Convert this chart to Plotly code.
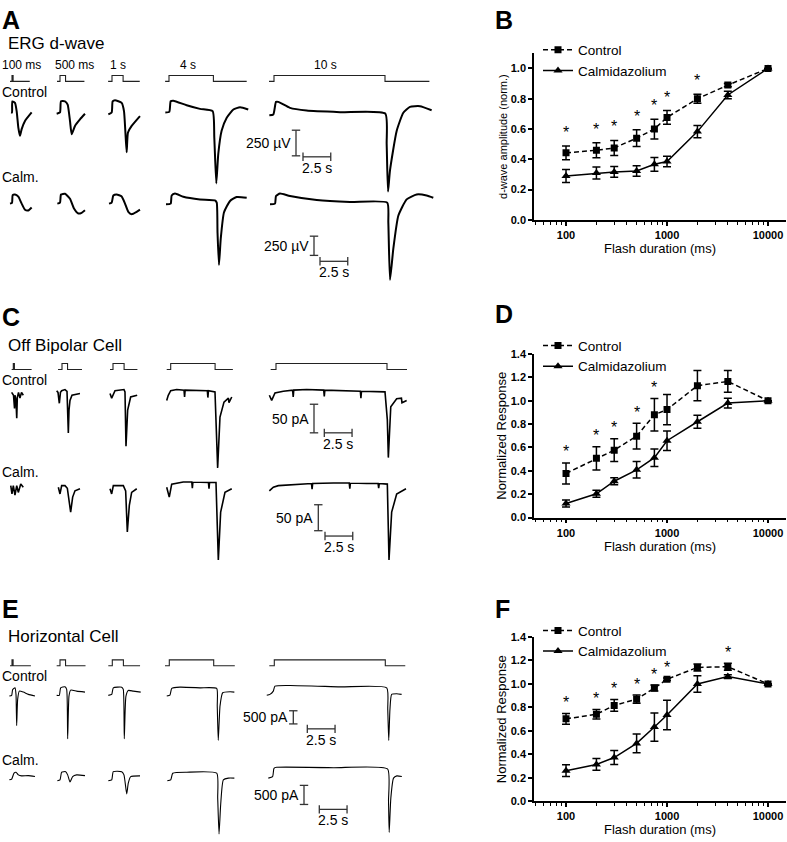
import numpy as np
import plotly.graph_objects as go

W, H = 787, 842
FONT = "Arial, Liberation Sans, sans-serif"

# ---------------- B / D / F : response vs flash duration ----------------
dur_ms = [100, 200, 300, 500, 750, 1000, 2000, 4000, 10000]

b_ctrl = [0.443, 0.46, 0.475, 0.54, 0.60, 0.677, 0.80, 0.89, 1.0]
b_ctrl_err = [0.045, 0.05, 0.05, 0.055, 0.065, 0.045, 0.03, 0.01, 0]
b_calm = [0.29, 0.31, 0.317, 0.323, 0.367, 0.386, 0.583, 0.825, 1.0]
b_calm_err = [0.043, 0.04, 0.035, 0.035, 0.045, 0.035, 0.04, 0.025, 0]
b_sig = [100, 200, 300, 500, 750, 1000, 2000]

d_ctrl = [0.378, 0.507, 0.577, 0.697, 0.88, 0.924, 1.129, 1.165, 1.0]
d_ctrl_err = [0.09, 0.1, 0.098, 0.11, 0.14, 0.13, 0.13, 0.093, 0]
d_calm = [0.12, 0.204, 0.311, 0.409, 0.513, 0.658, 0.82, 0.98, 1.0]
d_calm_err = [0.03, 0.03, 0.03, 0.07, 0.075, 0.083, 0.055, 0.042, 0]
d_sig = [100, 200, 300, 500, 750]

f_ctrl = [0.703, 0.742, 0.817, 0.87, 0.965, 1.04, 1.14, 1.146, 1.0]
f_ctrl_err = [0.045, 0.04, 0.05, 0.035, 0.025, 0.01, 0.03, 0.03, 0]
f_calm = [0.262, 0.315, 0.374, 0.494, 0.633, 0.736, 1.0, 1.062, 1.0]
f_calm_err = [0.05, 0.05, 0.06, 0.08, 0.12, 0.125, 0.07, 0.015, 0]
f_sig = [100, 200, 300, 500, 750, 1000, 4000]

# ---------------- A / C / E : example recordings ----------------
# stimulus durations (s) and where each stimulus line starts/ends (s from onset)
stim_dur = [0.1, 0.5, 1.0, 4.0, 10.0]
stim_labels = ["100 ms", "500 ms", "1 s", "4 s", "10 s"]
erg_stim_pre = [0.18, 0.27, 0.35, 0.35, 0.45]
erg_stim_post = [1.6, 2.2, 2.5, 7.0, 14.0]
obc_stim_pre = [0.15, 0.36, 0.27, 0.36, 0.48]
obc_stim_post = [1.65, 1.8, 2.2, 5.6, 11.8]
hc_stim_pre = [0.18, 0.3, 0.36, 0.39, 0.45]
hc_stim_post = [1.7, 2.3, 2.5, 5.9, 11.8]

# ERG d-wave, µV (time in s from light onset)
erg_ctrl = [
    ([-0.09, 0, 0.03, 0.27, 0.42, 0.57, 0.72, 0.87, 1.17, 1.77],
     [0, 0, 108, 93, 13, -147, -228, -163, -83, 0]),
    ([-0.3, 0, 0.09, 0.45, 0.69, 0.9, 1.05, 1.35, 1.8, 2.25],
     [-13, 0, 109, 109, 77, -83, -212, -131, -67, -13]),
    ([-0.33, -0.03, 0.06, 0.27, 0.87, 1.08, 1.2, 1.32, 1.44, 1.77, 2.52],
     [-19, 0, 109, 119, 93, 13, -179, -388, -195, -131, -35]),
    ([-0.33, 0.03, 0.15, 0.39, 1.59, 2.79, 3.93, 4.08, 4.26, 4.44, 4.74, 5.2, 5.8, 6.4, 7.14],
     [0, 6, 109, 115, 70, 35, 13, -244, -692, -404, -179, -51, 29, 51, 29]),
    ([-0.42, -0.06, 0.18, 0.39, 1.44, 2.94, 5.95, 10.02, 10.15, 10.27, 10.45, 11.05, 11.65, 12.25, 13.15, 14.2],
     [-26, -19, 103, 103, 45, 19, 3, -10, -308, -772, -564, -180, -3, 55, 61, 22]),
]
erg_calm = [
    ([-0.18, 0, 0.06, 0.27, 0.57, 0.87, 1.17, 1.47, 1.77],
     [0, 10, 110, 120, 90, 0, -80, -88, -50]),
    ([-0.24, 0, 0.09, 0.45, 0.9, 1.26, 1.65, 1.95, 2.25],
     [0, 13, 119, 128, 64, -64, -128, -119, -86]),
    ([-0.27, -0.03, 0.12, 0.42, 0.87, 1.17, 1.47, 1.77, 2.22, 2.52],
     [0, 13, 106, 119, 94, 0, -106, -137, -106, -77]),
    ([-0.27, 0.15, 0.24, 0.54, 1.29, 2.79, 4.14, 4.3, 4.37, 4.5, 4.66, 4.95, 5.5, 6.1, 7.0],
     [-9, 0, 106, 132, 90, 55, 42, 13, -372, -799, -458, -115, 35, 86, 77]),
    ([-0.36, 0.09, 0.18, 0.54, 1.44, 3.85, 6.85, 10.2, 10.3, 10.45, 10.75, 11.2, 11.95, 12.85, 13.75, 14.35],
     [-9, 0, 99, 132, 99, 47, 22, 13, -244, -991, -586, -158, 55, 119, 106, 77]),
]

# Off bipolar cell, pA
obc_ctrl = [
    ([-0.15, 0.02, 0.11, 0.15, 0.24, 0.31, 0.36, 0.47, 0.6, 0.74, 0.9],
     [0, -5, -28, -5, -14, -45, -9, 0, -10, 0, -5]),
    ([-0.48, -0.36, -0.24, -0.14, -0.03, 0.27, 0.45, 0.52, 0.57, 0.63, 0.72, 0.9, 1.62],
     [3, 0, -19, 0, 3, 5, 2, -31, -71, -31, -14, -5, -2]),
    ([-0.27, -0.12, 0.18, 0.99, 1.08, 1.17, 1.32, 1.59, 2.18],
     [-2, -10, 3, 5, 1, -94, -31, -8, -5]),
    ([-0.36, -0.22, 0, 0.54, 1.2, 1.25, 1.3, 2.64, 3.3, 3.35, 3.4, 3.99, 4.14, 4.23, 4.44, 4.8, 5.2, 5.25, 5.5],
     [-14, -5, 3, 5, 4, -8, 4, 3, 3, -9, 3, 1, -66, -132, -43, -17, -10, -18, -8]),
    ([-0.6, -0.39, -0.09, 0.66, 1.5, 1.55, 1.6, 2.76, 4.3, 4.35, 4.4, 5.77, 7.6, 7.65, 7.7, 9.82,
      10.03, 10.12, 10.34, 10.87, 11.3, 11.35, 11.77],
     [-5, -14, -1, 2, 4, -8, 4, 5, 4, -7, 4, 3, 2, -10, 2, 1, -48, -114, -25, -11, -10, -18, -14]),
]
obc_calm = [
    ([-0.23, -0.12, 0, 0.15, 0.31, 0.45, 0.67, 0.9],
     [-3, -19, -3, -21, -3, -16, 0, -6]),
    ([-0.33, -0.18, -0.03, 0.27, 0.48, 0.66, 0.78, 0.96, 1.17, 1.62],
     [-6, -19, -3, -3, -8, -41, -54, -25, -13, -9]),
    ([-0.27, -0.12, 0.03, 0.93, 1.14, 1.29, 1.47, 1.68, 2.14],
     [-9, -19, -3, -3, -13, -92, -41, -16, -9]),
    ([-0.36, -0.13, 0.09, 1.13, 1.9, 1.95, 2.0, 2.64, 3.4, 3.45, 3.5, 4.08, 4.2, 4.29, 4.5, 4.89, 5.5],
     [-6, -25, 0, 4, 4, -8, 4, 4, 3, -9, 3, 3, -73, -146, -54, -16, -9]),
    ([-0.6, -0.24, 0.21, 2.16, 3.2, 3.25, 3.3, 5.17, 6.6, 6.65, 6.7, 8.17, 9.2, 9.25, 9.3,
      10.03, 10.12, 10.18, 10.42, 10.87, 11.71],
     [-13, -6, -3, 0, 1, -10, 1, 2, 2, -9, 2, 1, 1, -8, 1, 0, -73, -146, -54, -19, -9]),
]

# Horizontal cell, pA
hc_ctrl = [
    ([-0.24, -0.03, 0.06, 0.27, 0.36, 0.42, 0.51, 0.66, 1.02, 1.47, 2.07],
     [0, 26, 251, 311, 63, -1124, -124, 187, 150, 63, 0]),
    ([-0.3, -0.06, 0.06, 0.45, 0.6, 0.69, 0.81, 0.96, 1.5, 2.25],
     [26, 26, 311, 348, 251, -1623, 0, 225, 187, 150]),
    ([-0.36, -0.05, 0.09, 0.85, 0.99, 1.08, 1.23, 1.44, 1.89, 2.56],
     [26, 63, 311, 337, 251, -1623, 0, 212, 187, 150]),
    ([-0.23, 0.06, 0.22, 0.96, 2.77, 4.27, 4.32, 4.41, 4.57, 4.81, 5.47, 5.86],
     [0, 37, 288, 337, 311, 288, -375, -1685, -375, 124, 161, 150]),
    ([-0.68, -0.39, -0.09, 0.06, 1.41, 5.92, 10.13, 10.22, 10.31, 10.42, 10.57, 11.02, 11.47],
     [26, 63, 187, 375, 401, 348, 311, -498, -1685, -498, 63, 86, 63]),
]
hc_calm = [
    ([-0.24, -0.03, 0.18, 0.36, 0.57, 0.87, 1.47, 2.07],
     [0, 18, 173, 199, 129, 103, 111, 85]),
    ([-0.24, 0, 0.15, 0.51, 0.69, 0.9, 1.14, 1.5, 2.25],
     [-26, 0, 199, 214, 129, -59, 85, 129, 111]),
    ([-0.36, -0.05, 0.09, 0.85, 1.05, 1.3, 1.44, 1.66, 2.5],
     [-26, 0, 214, 214, 129, -370, -85, 85, 103]),
    ([-0.18, 0.13, 0.31, 1.57, 4.27, 4.36, 4.48, 4.63, 4.87, 5.32, 5.86],
     [-26, 0, 173, 199, 173, -473, -1421, -646, 0, 44, 44]),
    ([-0.54, -0.15, -0.03, 0.22, 5.33, 10.2, 10.29, 10.35, 10.5, 10.74, 11.04, 11.49],
     [44, 85, 302, 328, 318, 284, -561, -1377, -473, 44, 103, 85]),
]

# ---------------- layout helpers ----------------
PPS = 11.1  # pixels per second in the recordings
fig = go.Figure()
layout = {}
annots = []
n_axes = [3]  # axes 1-3 are the B/D/F graphs


def fx(x):
    return x / W


def fy(y):
    return 1 - y / H


def row_axes(zero_px, ppu):
    """hidden axes covering the whole figure, value 0 at pixel row zero_px, ppu px per unit"""
    n_axes[0] += 1
    n = n_axes[0]
    layout[f"xaxis{n}"] = dict(domain=[0, 1], range=[0, W / PPS], visible=False,
                               anchor=f"y{n}", fixedrange=True)
    layout[f"yaxis{n}"] = dict(domain=[0, 1], range=[(zero_px - H) / ppu, zero_px / ppu],
                               visible=False, anchor=f"x{n}", fixedrange=True)
    return f"x{n}", f"y{n}"


def text(x, y, s, size=13, xanchor="left", bold=False):
    annots.append(dict(x=fx(x), y=fy(y), xref="paper", yref="paper", text=s, showarrow=False,
                       xanchor=xanchor, yanchor="middle",
                       font=dict(family=FONT, size=size, color="black", weight="bold" if bold else "normal")))


def draw_panel(onsets, stim_y, pre, post, rows, lw, shape):
    # stimulus monitor line
    xa, ya = row_axes(stim_y, 6.0)
    for i, d in enumerate(stim_dur):
        x0 = onsets[i] / PPS
        fig.add_trace(go.Scatter(x=[x0 - pre[i], x0, x0 + d, x0 + post[i]], y=[0, 1, 0, 0],
                                 mode="lines", line=dict(color="#222", width=1.1, shape="hv"),
                                 xaxis=xa, yaxis=ya, showlegend=False, hoverinfo="skip"))
    # recordings + scale bars
    for sweeps, zero_px, ppu, bar in rows:
        xa, ya = row_axes(zero_px, ppu)
        for i, (ts, vs) in enumerate(sweeps):
            x0 = onsets[i] / PPS
            fig.add_trace(go.Scatter(x=[x0 + t for t in ts], y=vs, mode="lines",
                                     line=dict(color="black", width=lw, shape=shape, smoothing=0.5),
                                     xaxis=xa, yaxis=ya, showlegend=False, hoverinfo="skip"))
        amp, unit, vx, vy, hx, hy = bar
        vb = (zero_px - vy) / ppu
        fig.add_trace(go.Scatter(x=[vx / PPS] * 2, y=[vb, vb + amp], mode="lines+markers",
                                 line=dict(color="#333", width=1.3),
                                 marker=dict(symbol="line-ew", size=6, line=dict(width=1.3, color="#333")),
                                 xaxis=xa, yaxis=ya, showlegend=False, hoverinfo="skip"))
        hb = (zero_px - hy) / ppu
        fig.add_trace(go.Scatter(x=[hx / PPS, hx / PPS + 2.5], y=[hb, hb], mode="lines+markers",
                                 line=dict(color="#333", width=1.3),
                                 marker=dict(symbol="line-ns", size=6, line=dict(width=1.3, color="#333")),
                                 xaxis=xa, yaxis=ya, showlegend=False, hoverinfo="skip"))
        text(vx - 3, vy - amp * ppu / 2, f"{amp} {unit}", size=14, xanchor="right")
        text(hx + 2.5 * PPS / 2, hy + 11, "2.5 s", size=14, xanchor="center")


# A  ERG d-wave
draw_panel([12, 60, 112, 169, 274], 76.5, erg_stim_pre, erg_stim_post,
           [(erg_ctrl, 108, 0.104, (250, "\u00b5V", 296, 152, 303, 153)),
            (erg_calm, 200.5, 0.078, (250, "\u00b5V", 314, 253, 320, 259))], 2.0, "spline")
# C  Off bipolar cell
draw_panel([13.3, 62, 113, 170.7, 276], 368.7, obc_stim_pre, obc_stim_post,
           [(obc_ctrl, 392, 0.58, (50, "pA", 314, 433, 324.3, 433)),
            (obc_calm, 485, 0.527, (50, "pA", 318.3, 532.3, 325, 537.7))], 1.6, "linear")
# E  Horizontal cell
draw_panel([12, 60, 112.3, 169.3, 274.3], 669.3, hc_stim_pre, hc_stim_post,
           [(hc_ctrl, 700, 0.0267, (500, "pA", 293.3, 728.3, 307.3, 733.3)),
            (hc_calm, 785, 0.0387, (500, "pA", 304, 810, 319.3, 815))], 1.1, "spline")

# left-hand labels
for x, s in zip([21, 74, 118, 188, 325], stim_labels):
    text(x, 60, s, size=12, xanchor="center")
text(6, 38, "ERG d-wave", size=17)
text(6, 344, "Off Bipolar Cell", size=17)
text(6, 640, "Horizontal Cell", size=17)
for y in (87, 379, 680):
    text(0, y, "Control", size=14)
for y in (173, 473, 765):
    text(0, y, "Calm.", size=14)
for x, y, s in [(0, 14, "A"), (493, 14, "B"), (0, 315, "C"), (493, 312, "D"), (0, 612, "E"), (493, 612, "F")]:
    text(x, y, s, size=25, bold=True)

# ---------------- B / D / F graphs ----------------
minor_vals = [50, 60, 70, 80, 90] + [k * 100 for k in range(2, 10)] + [k * 1000 for k in range(2, 10)]
graphs = [
    (1, (48, 217), [0, 1.1], "d-wave amplitude (norm.)", 11, b_ctrl, b_ctrl_err, b_calm, b_calm_err, b_sig,
     "legend", 29, 13.5),
    (2, (353, 519), [0, 1.4], "Normalized Response", 13, d_ctrl, d_ctrl_err, d_calm, d_calm_err, d_sig,
     "legend2", 329, 11),
    (3, (640, 807), [0, 1.4], "Normalized Response", 13, f_ctrl, f_ctrl_err, f_calm, f_calm_err, f_sig,
     "legend3", 618, 11),
]
for n, (top, bot), yr, ytitle, ysize, c, ce, m, me, sig, leg, legy, star_dy in graphs:
    sfx = "" if n == 1 else str(n)
    layout[f"xaxis{sfx}"] = dict(
        domain=[fx(534), fx(786)], type="log", range=[1.683, 4.178], anchor=f"y{sfx}",
        showline=True, linewidth=1.5, linecolor="black", ticks="outside", ticklen=4, tickwidth=1.5,
        tickcolor="black", tickvals=[100, 1000, 10000], ticktext=["100", "1000", "10000"],
        tickfont=dict(family=FONT, size=11, color="black", weight="bold"), showgrid=False, zeroline=False,
        minor=dict(tickvals=minor_vals, ticks="outside", ticklen=3, tickwidth=1, tickcolor="black", showgrid=False),
        title=dict(text="Flash duration (ms)", font=dict(family=FONT, size=13, color="black"), standoff=1),
        fixedrange=True)
    layout[f"yaxis{sfx}"] = dict(
        domain=[fy(bot), fy(top)], range=yr, anchor=f"x{sfx}", dtick=0.2, tickformat=".1f",
        showline=True, linewidth=1.5, linecolor="black", ticks="outside", ticklen=4, tickwidth=1.5,
        tickcolor="black", tickfont=dict(family=FONT, size=11, color="black", weight="bold"),
        showgrid=False, zeroline=False,
        title=dict(text=ytitle, font=dict(family=FONT, size=ysize, color="black"), standoff=1),
        fixedrange=True)
    layout[leg] = dict(x=fx(538), y=fy(legy), xanchor="left", yanchor="top", bgcolor="rgba(0,0,0,0)",
                       font=dict(family=FONT, size=13.5, color="black"), itemwidth=30, tracegroupgap=0)
    xa, ya = f"x{sfx}", f"y{sfx}"
    fig.add_trace(go.Scatter(x=dur_ms, y=c, name="Control", mode="lines+markers",
                             line=dict(color="black", width=1.5, dash="5px,3px"),
                             marker=dict(symbol="square", size=7, color="black"),
                             error_y=dict(type="data", array=ce, color="black", thickness=1.5, width=4),
                             xaxis=xa, yaxis=ya, legend=leg))
    fig.add_trace(go.Scatter(x=dur_ms, y=m, name="Calmidazolium", mode="lines+markers",
                             line=dict(color="black", width=1.5),
                             marker=dict(symbol="triangle-up", size=8, color="black"),
                             error_y=dict(type="data", array=me, color="black", thickness=1.5, width=4),
                             xaxis=xa, yaxis=ya, legend=leg))
    for d in sig:
        i = dur_ms.index(d)
        annots.append(dict(x=np.log10(d), y=c[i] + ce[i], xref=xa, yref=ya, text="*", showarrow=False,
                           yanchor="middle", yshift=star_dy, font=dict(family=FONT, size=16, color="black")))

fig.update_layout(**layout)
fig.update_layout(width=W, height=H, margin=dict(l=0, r=0, t=0, b=0),
                  plot_bgcolor="rgba(0,0,0,0)", paper_bgcolor="white", annotations=annots,
                  showlegend=True)
# drop the browser's default 8 px page margin so the figure sits at the window's corner
fig.write_html("out.html", config={"displayModeBar": False},
               post_script="document.body.style.margin='0';")
